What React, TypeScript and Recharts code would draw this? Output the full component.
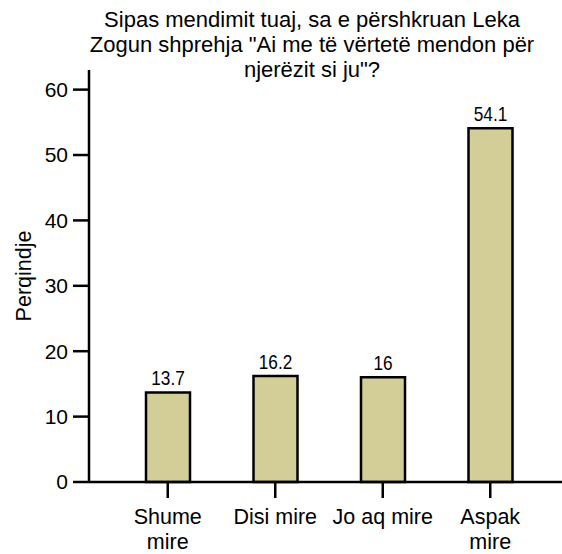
import { BarChart, Bar, XAxis, YAxis, LabelList } from "recharts";

const titleLines = [
  "Sipas mendimit tuaj, sa e përshkruan Leka",
  'Zogun shprehja "Ai me të vërtetë mendon për',
  'njerëzit si ju"?',
];
const categories = ["Shume mire", "Disi mire", "Jo aq mire", "Aspak mire"];
const tickLines = [["Shume", "mire"], ["Disi mire"], ["Jo aq mire"], ["Aspak", "mire"]];
const percents = [13.7, 16.2, 16, 54.1];
const yTicks = [0, 10, 20, 30, 40, 50, 60];

const data = categories.map((name, i) => ({ name, value: percents[i] }));

const FONT = "Arial, 'Liberation Sans', sans-serif";

function CategoryTick({ x, y, index }: any) {
  const lines = tickLines[index] || [];
  return (
    <text x={x} y={y} textAnchor="middle" fontFamily={FONT} fontSize={21.5} fill="#000">
      {lines.map((l, i) => (
        <tspan key={i} x={x} dy={i === 0 ? 24 : 25}>
          {l}
        </tspan>
      ))}
    </text>
  );
}

// value labels in the source are a condensed face
function ValueLabel({ x, y, width, value }: any) {
  const cx = x + width / 2;
  return (
    <text
      x={0}
      y={y - 7}
      textAnchor="middle"
      fontFamily={FONT}
      fontSize={21}
      fill="#000"
      transform={`translate(${cx},0) scale(0.82,1)`}
    >
      {value}
    </text>
  );
}

export default function App() {
  return (
    <div style={{ position: "relative", width: 562, height: 554, background: "#fff" }}>
      <style>{`body{margin:0}`}</style>
      <div
        style={{
          position: "absolute",
          top: 7,
          left: 312 - 260,
          width: 520,
          textAlign: "center",
          fontFamily: FONT,
          fontSize: 22,
          lineHeight: "25px",
          color: "#000",
        }}
      >
        {titleLines.map((l, i) => (
          <div key={i}>{l}</div>
        ))}
      </div>
      <BarChart
        width={562}
        height={554}
        data={data}
        margin={{ top: 70, right: 0, bottom: 12, left: 0 }}
        barSize={44}
      >
        <XAxis
          dataKey="name"
          height={60}
          padding={{ left: 25, right: 18 }}
          tickSize={16}
          tickMargin={2}
          interval={0}
          axisLine={{ stroke: "#000", strokeWidth: 2.5 }}
          tickLine={{ stroke: "#000", strokeWidth: 2.5 }}
          tick={<CategoryTick />}
        />
        <YAxis
          width={89}
          domain={[0, 63]}
          ticks={yTicks}
          tickSize={16}
          tickMargin={5}
          axisLine={{ stroke: "#000", strokeWidth: 2.5 }}
          tickLine={{ stroke: "#000", strokeWidth: 2.5 }}
          tick={{ fill: "#000", fontSize: 21, fontFamily: FONT }}
          label={{
            value: "Perqindje",
            angle: -90,
            position: "insideLeft",
            offset: 23,
            style: { textAnchor: "middle", fontSize: 21.5, fontFamily: FONT, fill: "#000" },
          }}
        />
        <Bar dataKey="value" fill="#d3ce98" stroke="#000" strokeWidth={2.5} isAnimationActive={false}>
          <LabelList dataKey="value" content={<ValueLabel />} />
        </Bar>
      </BarChart>
    </div>
  );
}
